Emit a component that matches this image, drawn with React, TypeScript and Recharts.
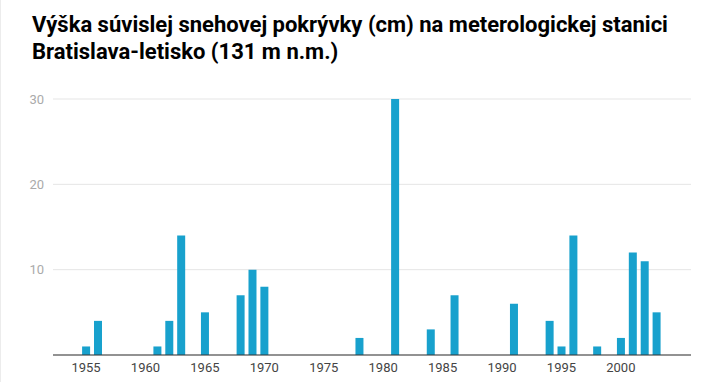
import React from "react";
import { BarChart, Bar, XAxis, YAxis, CartesianGrid } from "recharts";

const years = [1955, 1956, 1961, 1962, 1963, 1965, 1968, 1969, 1970, 1978, 1981, 1984, 1986, 1991, 1994, 1995, 1996, 1998, 2000, 2001, 2002, 2003];
const snowDepth = [1, 4, 1, 4, 14, 5, 7, 10, 8, 2, 30, 3, 7, 6, 4, 1, 14, 1, 2, 12, 11, 5];
const xTicks = [1955, 1960, 1965, 1970, 1975, 1980, 1985, 1990, 1995, 2000];
const yTicks = [10, 20, 30];
const titleLines = [
  "Výška súvislej snehovej pokrývky (cm) na meterologickej stanici",
  "Bratislava-letisko (131 m n.m.)",
];

const data = years.map((y, i) => ({ year: y, value: snowDepth[i] }));

export default function App() {
  return (
    <div
      style={{
        position: "absolute",
        left: 0,
        top: 0,
        width: 720,
        height: 382,
        background: "#fff",
        fontFamily: "Roboto, sans-serif",
        overflow: "hidden",
      }}
    >
      <div style={{ position: "absolute", left: 0, top: 0, width: 1, height: 382, background: "#ececec" }} />
      <div
        style={{
          position: "absolute",
          left: 32,
          top: 11,
          fontSize: 22,
          lineHeight: "27px",
          fontWeight: 700,
          color: "#000",
          whiteSpace: "nowrap",
        }}
      >
        {titleLines.map((t) => (
          <div key={t}>{t}</div>
        ))}
      </div>
      <div style={{ position: "absolute", left: 0, top: 0 }}>
        <BarChart
          width={720}
          height={382}
          data={data}
          margin={{ top: 99, right: 29, bottom: 7, left: 0 }}
        >
          <CartesianGrid vertical={false} stroke="#e5e5e5" strokeWidth={1} />
          <XAxis
            dataKey="year"
            type="number"
            domain={[1952.22, 2005.9]}
            ticks={xTicks}
            allowDataOverflow
            height={20}
            tickLine={false}
            tickSize={0}
            tickMargin={8}
            axisLine={{ stroke: "#333", strokeWidth: 1 }}
            tick={{ fill: "#444", fontSize: 13, fontFamily: "Roboto" }}
            interval={0}
          />
          <YAxis
            type="number"
            domain={[0, 30]}
            ticks={yTicks}
            width={53}
            axisLine={false}
            tickLine={false}
            tickSize={0}
            tickMargin={9}
            tick={{ fill: "#aaa", fontSize: 13, fontFamily: "Roboto" }}
          />
          <Bar dataKey="value" fill="#18a1cd" barSize={8} isAnimationActive={false} />
        </BarChart>
      </div>
    </div>
  );
}
